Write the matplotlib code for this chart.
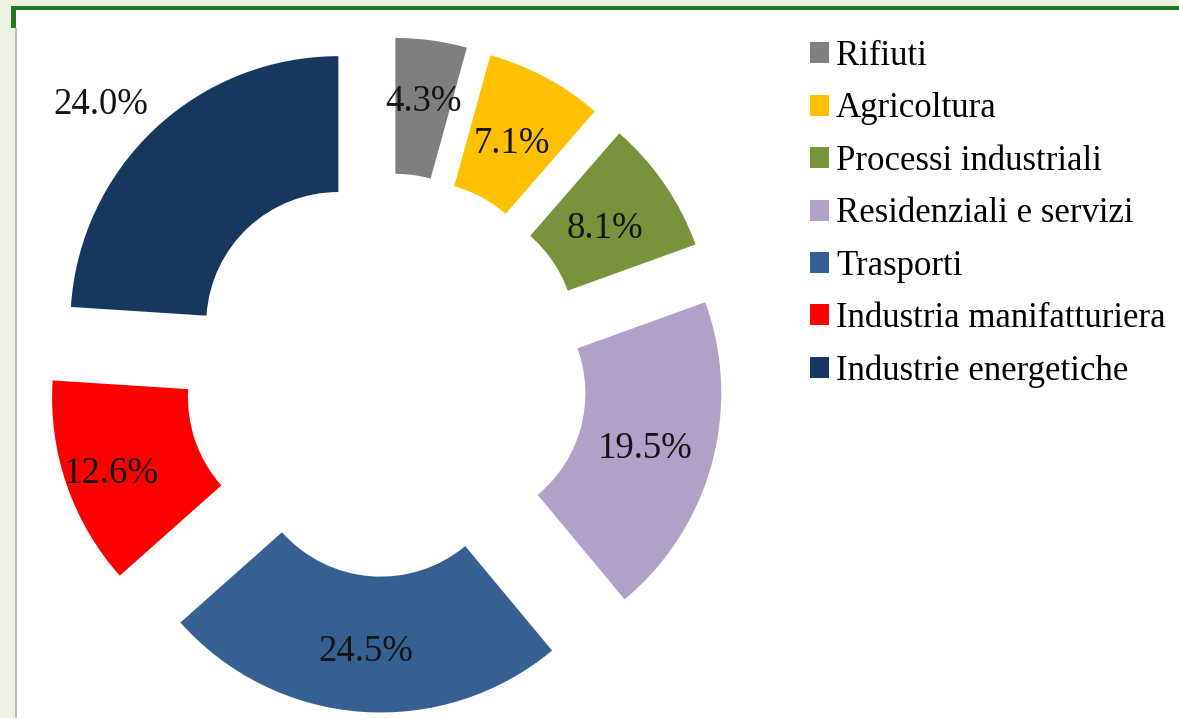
import numpy as np
import matplotlib.pyplot as plt
from matplotlib.patches import Rectangle

# dati
categorie = ['Rifiuti', 'Agricoltura', 'Processi industriali', 'Residenziali e servizi',
             'Trasporti', 'Industria manifatturiera', 'Industrie energetiche']
quote = [4.3, 7.1, 8.1, 19.5, 24.5, 12.6, 24.0]
colori = ['#7F7F7F', '#FFC000', '#77933C', '#B1A0C7', '#376092', '#FF0000', '#17375E']

# posizione delle etichette: distanza dal centro (in raggi) e spostamento angolare (gradi)
dist_etichette = [1.045, 0.996, 0.99, 1.0, 1.02, 1.085, 1.475]
rot_etichette = [0, 0, 0, 0, 0, 0, 3]

W, H = 1179, 718
R_PX = 268.0          # raggio esterno in pixel
CX, CY = 386.0, 375.0  # centro della ciambella (pixel, dall'alto)

plt.rcParams['font.family'] = ['Liberation Serif', 'DejaVu Serif']
fig = plt.figure(figsize=(W / 100, H / 100), dpi=100, facecolor='#EEF2E2')


def box(x, y, w, h):
    """rettangolo in pixel (origine in alto a sinistra) -> frazioni di figura"""
    return (x / W, 1 - (y + h) / H), w / W, h / H


# cornice della slide (sotto gli assi)
for (xy, w, h), c in [(box(16, 10, W - 16, H - 10), 'white'),
                      (box(11, 6, W - 11, 4), '#1E7A1E'),
                      (box(11, 6, 5, 22), '#1E7A1E'),
                      (box(15, 28, 2, H - 28), '#B8B8B8')]:
    fig.add_artist(Rectangle(xy, w, h, transform=fig.transFigure,
                             facecolor=c, edgecolor='none', zorder=-10))

ax = fig.add_axes([0, 0, 1, 1])
ax.axis('off')
ax.patch.set_alpha(0)

wedges, _ = ax.pie(quote, colors=colori, startangle=90, counterclock=False,
                   explode=[0.26] * len(quote), radius=1,
                   wedgeprops=dict(width=0.507, linewidth=0))

ax.set_aspect('auto')
ax.set_xlim(-CX / R_PX, (W - CX) / R_PX)
ax.set_ylim(-(H - CY) / R_PX, CY / R_PX)

# etichette percentuali
tot = sum(quote)
cum = 0.0
for v, d, rot in zip(quote, dist_etichette, rot_etichette):
    theta = np.deg2rad(90 - 360 * (cum + v / 2) / tot + rot)
    ax.text(d * np.cos(theta), d * np.sin(theta), f'{v:.1f}%',
            ha='center', va='center_baseline', fontsize=26.5, color='#151515')
    cum += v

ax.legend(wedges, categorie, loc='upper left',
          bbox_to_anchor=(810 / W, 1 - 40 / H), bbox_transform=fig.transFigure,
          frameon=False, fontsize=25, handlelength=0.55, handleheight=0.55,
          handletextpad=0.2, labelspacing=0.56, borderpad=0, borderaxespad=0)

fig.savefig('out.png', dpi=100, facecolor=fig.get_facecolor())
